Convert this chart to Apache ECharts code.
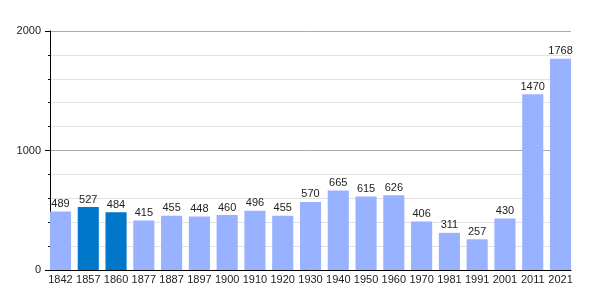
<!DOCTYPE html>
<html><head><meta charset="utf-8">
<script src="https://cdn.jsdelivr.net/npm/echarts@6/dist/echarts.min.js"></script>
<style>html,body{margin:0;padding:0;background:#fff}#c{width:600px;height:300px}</style>
</head><body><div id="c"></div>
<script>
const years = ['1842','1857','1860','1877','1887','1897','1900','1910','1920','1930','1940','1950','1960','1970','1981','1991','2001','2011','2021'];
const population = [489,527,484,415,455,448,460,496,455,570,665,615,626,406,311,257,430,1470,1768];
const highlighted = ['1857','1860'];
const yTicks = [0,1000,2000];

const chart = echarts.init(document.getElementById('c'), null, {renderer:'canvas'});
const font = 'Liberation Sans, Arial, sans-serif';
chart.setOption({
  animation:false,
  grid:[
    {left:50, right:29, top:31, bottom:30},
    {left:46.6, right:25.6, top:31, bottom:30}
  ],
  xAxis:[
    {gridIndex:0, type:'category', data:years, axisLine:{lineStyle:{color:'#000',width:1}}, axisTick:{show:false}, axisLabel:{show:false}},
    {gridIndex:1, type:'category', data:years, axisLine:{show:false}, axisTick:{show:false},
     axisLabel:{interval:0, color:'#222', fontSize:11, fontFamily:font, margin:4}}
  ],
  yAxis:[
    {gridIndex:0, type:'value', min:yTicks[0], max:yTicks[yTicks.length-1], interval:1000,
     axisLine:{show:true, lineStyle:{color:'#000'}},
     axisTick:{show:true, length:5, lineStyle:{color:'#000'}},
     minorTick:{show:true, splitNumber:5, length:2, lineStyle:{color:'#000'}},
     splitLine:{show:true, lineStyle:{color:'#aaaaaa'}},
     minorSplitLine:{show:true, lineStyle:{color:'#e2e2e2'}},
     axisLabel:{color:'#222', fontSize:11, fontFamily:font, margin:9, formatter:v=>String(v)}},
    {gridIndex:1, type:'value', min:0, max:2000, show:false, splitLine:{show:false}}
  ],
  series:[{
    type:'bar', xAxisIndex:1, yAxisIndex:1,
    data: population.map((v,i)=>({value:v, itemStyle:{color: highlighted.includes(years[i]) ? '#0077c8' : '#99b2ff'}})),
    barCategoryGap:'24%',
    label:{show:true, position:'top', distance:2, color:'#222', fontSize:11, fontFamily:font}
  }]
});
</script></body></html>
